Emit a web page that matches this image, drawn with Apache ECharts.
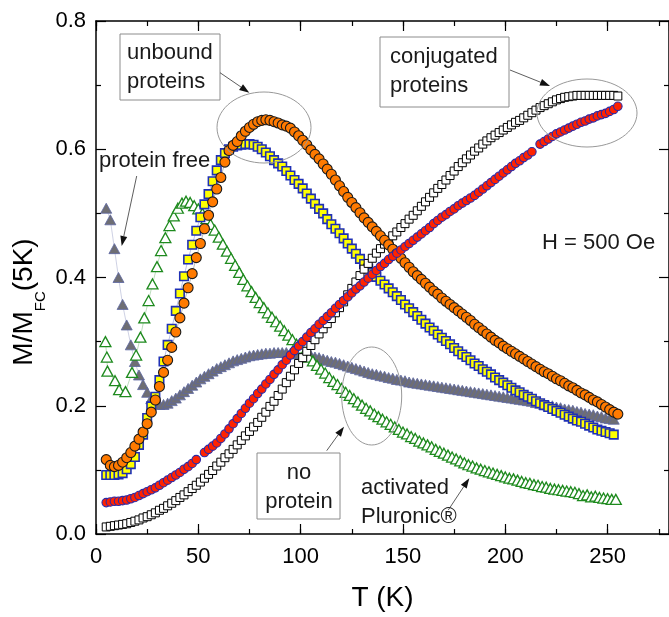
<!DOCTYPE html>
<html>
<head>
<meta charset="utf-8">
<script src="https://cdn.jsdelivr.net/npm/echarts@6/dist/echarts.min.js"></script>
<style>
html, body { margin: 0; padding: 0; background: #fff; }
#main { width: 669px; height: 617px; }
</style>
</head>
<body>
<div id="main"></div>
<script>
// temperature grid shared by most curves (K)
var temps = [
  5, 7, 9, 11, 13, 15, 17, 19, 21, 23,
  25, 27, 29, 31, 33, 35, 37, 39, 41, 43,
  45, 47, 49, 51, 53, 55, 57, 59, 61, 63,
  65, 67, 69, 71, 73, 75, 77, 79, 81, 83,
  85, 87, 89, 91, 93, 95, 97, 99, 101, 103,
  105, 107, 109, 111, 113, 115, 117, 119, 121, 123,
  125, 127, 129, 131, 133, 135, 137, 139, 141, 143,
  145, 147, 149, 151, 153, 155, 157, 159, 161, 163,
  165, 167, 169, 171, 173, 175, 177, 179, 181, 183,
  185, 187, 189, 191, 193, 195, 197, 199, 201, 203,
  205, 207, 209, 211, 213, 215, 217, 219, 221, 223,
  225, 227, 229, 231, 233, 235, 237, 239, 241, 243,
  245, 247, 249, 251, 253, 255
]

// unbound proteins, orange circles
var unboundCircles = [
  0.116, 0.107, 0.105, 0.107, 0.112, 0.119, 0.127, 0.137, 0.148, 0.159,
  0.172, 0.190, 0.209, 0.230, 0.252, 0.271, 0.291, 0.315, 0.337, 0.360,
  0.384, 0.406, 0.431, 0.453, 0.476, 0.497, 0.518, 0.538, 0.556, 0.580,
  0.598, 0.606, 0.612, 0.621, 0.628, 0.634, 0.639, 0.643, 0.645, 0.646,
  0.645, 0.643, 0.641, 0.638, 0.636, 0.633, 0.627, 0.621, 0.614, 0.607,
  0.599, 0.592, 0.585, 0.577, 0.569, 0.561, 0.552, 0.543, 0.534, 0.525,
  0.517, 0.509, 0.501, 0.493, 0.486, 0.479, 0.472, 0.465, 0.458, 0.451,
  0.444, 0.437, 0.430, 0.423, 0.416, 0.409, 0.403, 0.397, 0.391, 0.385,
  0.379, 0.374, 0.368, 0.363, 0.358, 0.353, 0.348, 0.343, 0.338, 0.333,
  0.327, 0.322, 0.317, 0.312, 0.307, 0.302, 0.298, 0.293, 0.289, 0.285,
  0.281, 0.277, 0.273, 0.269, 0.265, 0.261, 0.257, 0.253, 0.250, 0.246,
  0.242, 0.239, 0.235, 0.231, 0.228, 0.224, 0.220, 0.217, 0.213, 0.209,
  0.206, 0.202, 0.198, 0.194, 0.190, 0.187
]

// unbound proteins, yellow squares
var unboundSquares = [
  0.092, 0.092, 0.092, 0.093, 0.095, 0.101, 0.109, 0.120, 0.139, 0.155,
  0.181, 0.199, 0.214, 0.240, 0.269, 0.295, 0.320, 0.348, 0.375, 0.402,
  0.428, 0.451, 0.473, 0.494, 0.514, 0.530, 0.550, 0.567, 0.583, 0.594,
  0.600, 0.604, 0.606, 0.607, 0.608, 0.608, 0.607, 0.604, 0.600, 0.595,
  0.589, 0.583, 0.578, 0.573, 0.566, 0.559, 0.552, 0.546, 0.539, 0.531,
  0.523, 0.515, 0.507, 0.500, 0.491, 0.483, 0.476, 0.469, 0.461, 0.453,
  0.445, 0.437, 0.429, 0.421, 0.414, 0.407, 0.401, 0.395, 0.389, 0.383,
  0.377, 0.371, 0.365, 0.358, 0.352, 0.346, 0.340, 0.334, 0.328, 0.322,
  0.317, 0.311, 0.306, 0.301, 0.296, 0.290, 0.285, 0.280, 0.276, 0.271,
  0.266, 0.262, 0.257, 0.253, 0.249, 0.244, 0.240, 0.236, 0.232, 0.228,
  0.224, 0.221, 0.217, 0.214, 0.211, 0.207, 0.204, 0.201, 0.198, 0.195,
  0.192, 0.189, 0.186, 0.183, 0.180, 0.177, 0.175, 0.172, 0.169, 0.166,
  0.163, 0.161, 0.159, 0.157, 0.155, null
]

// conjugated proteins, red circles
var conjCircles = [
  0.049, 0.050, 0.051, 0.051, 0.052, 0.053, 0.055, 0.057, 0.060, 0.063,
  0.066, 0.069, 0.072, 0.076, 0.080, 0.084, 0.088, 0.092, 0.096, 0.101,
  0.105, 0.110, 0.116, null, 0.127, 0.132, 0.137, 0.142, 0.149, 0.156,
  0.164, 0.172, 0.180, 0.188, 0.196, 0.204, 0.211, 0.219, 0.226, 0.234,
  0.241, 0.249, 0.256, 0.264, 0.271, 0.279, 0.286, 0.293, 0.300, 0.307,
  0.314, 0.320, 0.327, 0.333, 0.339, 0.345, 0.352, 0.358, 0.364, 0.370,
  0.376, 0.382, 0.387, 0.393, 0.399, 0.405, 0.411, 0.417, 0.422, 0.428,
  0.433, 0.438, 0.443, 0.448, 0.453, 0.458, 0.463, 0.468, 0.473, 0.478,
  0.484, 0.489, 0.494, 0.498, 0.503, 0.507, 0.512, 0.516, 0.520, 0.524,
  0.528, 0.533, 0.538, 0.543, 0.548, 0.553, 0.558, 0.563, 0.568, 0.573,
  0.578, 0.582, 0.587, 0.591, 0.596, null, 0.608, 0.612, 0.616, 0.620,
  0.624, 0.627, 0.630, 0.633, 0.636, 0.639, 0.642, 0.644, 0.647, 0.649,
  0.652, 0.654, 0.656, 0.659, 0.662, 0.667
]

// conjugated proteins, open black squares
var conjSquares = [
  0.011, 0.012, 0.013, 0.014, 0.015, 0.016, 0.018, 0.020, 0.022, 0.025,
  0.027, 0.030, 0.033, 0.037, 0.040, 0.044, 0.048, 0.052, 0.057, 0.061,
  0.066, 0.071, 0.076, 0.081, 0.087, 0.093, 0.099, 0.106, 0.112, 0.119,
  0.125, 0.132, 0.139, 0.146, 0.153, 0.160, 0.167, 0.174, 0.182, 0.190,
  0.199, 0.207, 0.216, 0.226, 0.236, 0.246, 0.256, 0.266, 0.275, 0.285,
  0.294, 0.303, 0.312, 0.320, 0.328, 0.336, 0.345, 0.353, 0.362, 0.373,
  0.383, 0.393, 0.403, 0.413, 0.422, 0.430, 0.438, 0.445, 0.452, 0.458,
  0.465, 0.471, 0.478, 0.484, 0.491, 0.497, 0.504, 0.511, 0.518, 0.525,
  0.532, 0.539, 0.545, 0.552, 0.559, 0.566, 0.573, 0.579, 0.585, 0.591,
  0.597, 0.602, 0.608, 0.613, 0.618, 0.622, 0.626, 0.630, 0.634, 0.638,
  0.642, 0.645, 0.649, 0.653, 0.657, 0.661, 0.665, 0.668, 0.671, 0.674,
  0.677, 0.679, 0.681, 0.682, 0.683, 0.684, 0.684, 0.684, 0.684, 0.684,
  0.684, 0.684, 0.684, 0.684, 0.684, 0.683
]

// protein free, grey triangles
var proteinFree = [
  0.508, 0.490, 0.445, 0.400, 0.358, 0.326, 0.295, 0.269, 0.248, 0.233,
  0.221, 0.211, 0.205, 0.202, 0.202, 0.204, 0.208, 0.212, 0.217, 0.222,
  0.227, 0.232, 0.237, 0.242, 0.246, 0.250, 0.254, 0.258, 0.261, 0.264,
  0.267, 0.270, 0.272, 0.274, 0.276, 0.278, 0.279, 0.280, 0.281, 0.282,
  0.282, 0.283, 0.283, 0.283, 0.283, 0.282, 0.282, 0.281, 0.280, 0.279,
  0.278, 0.276, 0.275, 0.273, 0.271, 0.269, 0.268, 0.266, 0.264, 0.262,
  0.260, 0.258, 0.256, 0.254, 0.252, 0.250, 0.249, 0.247, 0.246, 0.244,
  0.243, 0.241, 0.240, 0.239, 0.237, 0.236, 0.235, 0.234, 0.233, 0.232,
  0.231, 0.230, 0.229, 0.228, 0.227, 0.226, 0.225, 0.224, 0.223, 0.222,
  0.221, 0.220, 0.219, 0.218, 0.217, 0.216, 0.215, 0.214, 0.213, 0.212,
  0.211, 0.210, 0.209, 0.208, 0.207, 0.205, 0.204, 0.202, 0.201, 0.200,
  0.198, 0.197, 0.195, 0.194, 0.193, 0.191, 0.190, 0.188, 0.187, 0.186,
  0.184, 0.183, 0.181, 0.180, 0.179, null
]

// activated Pluronic (no protein), open green triangles, own temperatures
var pluronicTemps = [
  4.6, 5.3, 5.6, 9.3, 11.3, 14.4, 17.6, 19.6, 21.7, 23.6,
  25.7, 27.6, 29.8, 31.8, 33.9, 35.9, 38,
  40, 42, 44, 46, 48, 50, 52, 54, 56, 58,
  60, 62, 64, 66, 68, 70, 72, 74, 76, 78,
  80, 82, 84, 86, 88, 90, 92, 94, 96, 98,
  100, 102, 104, 106, 108, 110, 112, 114, 116, 118,
  120, 122, 124, 126, 128, 130, 132, 134, 136, 138,
  140, 142, 144, 146, 148, 150, 152, 154, 156, 158,
  160, 162, 164, 166, 168, 170, 172, 174, 176, 178,
  180, 182, 184, 186, 188, 190, 192, 194, 196, 198,
  200, 202, 204, 206, 208, 210, 212, 214, 216, 218,
  220, 222, 224, 226, 228, 230, 232, 234, 236, 238,
  240, 242, 244, 246, 248, 250, 252, 254
]
var pluronic = [
  0.300, 0.276, 0.254, 0.239, 0.225, 0.222, 0.252, 0.279, 0.307, 0.337,
  0.364, 0.390, 0.417, 0.442, 0.462, 0.481, 0.496,
  0.508, 0.516, 0.519, 0.517, 0.512, 0.507, 0.500, 0.492, 0.483, 0.474,
  0.463, 0.452, 0.441, 0.430, 0.419, 0.408, 0.397, 0.387, 0.378, 0.369,
  0.361, 0.353, 0.345, 0.338, 0.331, 0.324, 0.317, 0.310, 0.303, 0.296,
  0.290, 0.283, 0.276, 0.270, 0.263, 0.257, 0.251, 0.244, 0.238, 0.233,
  0.227, 0.221, 0.216, 0.211, 0.206, 0.201, 0.196, 0.192, 0.187, 0.183,
  0.179, 0.175, 0.171, 0.167, 0.163, 0.159, 0.156, 0.152, 0.149, 0.145,
  0.142, 0.139, 0.136, 0.132, 0.129, 0.126, 0.123, 0.120, 0.117, 0.114,
  0.111, 0.108, 0.106, 0.103, 0.101, 0.099, 0.097, 0.095, 0.093, 0.091,
  0.089, 0.087, 0.086, 0.084, 0.082, 0.080, 0.079, 0.077, 0.076, 0.074,
  0.073, 0.071, 0.070, 0.069, 0.068, 0.067, 0.066, 0.065, 0.063, 0.060,
  0.061, 0.058, 0.059, 0.057, 0.056, 0.055, 0.054, 0.054
]

var FONT = '"Liberation Sans", Arial, sans-serif'
var INK = '#1a1a1a'
var FRAME = '#8c8c8c'

function pairs (xs, ys) {
  return xs.map(function (x, i) { return [x, ys[i]] })
}

// one marker series, thin connecting line like the original plot
function dots (name, xs, ys, symbol, size, fill, edge, bw) {
  return {
    name: name,
    type: 'line',
    data: pairs(xs, ys),
    symbol: symbol,
    symbolSize: size,
    showSymbol: true,
    connectNulls: false,
    silent: true,
    itemStyle: { color: fill, borderColor: edge, borderWidth: bw },
    lineStyle: { width: 0.6, color: edge, opacity: 0.5 }
  }
}

function arrow (x1, y1, x2, y2) {
  var dx = x2 - x1
  var dy = y2 - y1
  var len = Math.sqrt(dx * dx + dy * dy)
  var ux = dx / len
  var uy = dy / len
  var bx = x2 - ux * 10
  var by = y2 - uy * 10
  return [
    { type: 'line', z: 100, shape: { x1: x1, y1: y1, x2: bx, y2: by }, style: { stroke: '#333', lineWidth: 0.8 } },
    { type: 'polygon', z: 100, shape: { points: [[x2, y2], [bx - uy * 3.5, by + ux * 3.5], [bx + uy * 3.5, by - ux * 3.5]] }, style: { fill: '#111' } }
  ]
}

function label (x, y, text, align) {
  return {
    type: 'text', z: 100, x: x, y: y,
    style: { text: text, fontSize: 22, fontFamily: FONT, fill: INK, lineHeight: 29, align: align || 'left', verticalAlign: 'middle' }
  }
}

function box (x, y, w, h) {
  return { type: 'rect', z: 99, shape: { x: x, y: y, width: w, height: h }, style: { fill: 'none', stroke: FRAME, lineWidth: 1 } }
}

function ring (cx, cy, rx, ry) {
  return { type: 'ellipse', z: 99, shape: { cx: cx, cy: cy, rx: rx, ry: ry }, style: { fill: 'none', stroke: '#999', lineWidth: 1 } }
}

var black = { color: '#000', width: 1.5 }

function xAxisPart (pos, interval, len, showLine, showLabel) {
  return {
    type: 'value', position: pos, min: 0, max: 280, interval: interval,
    axisLine: { show: showLine, onZero: false, lineStyle: black },
    axisTick: { show: true, inside: true, length: len, lineStyle: { color: '#000', width: 1.2 } },
    axisLabel: { show: showLabel, fontSize: 22, fontFamily: FONT, color: '#000', margin: 12, showMaxLabel: false },
    splitLine: { show: false }
  }
}

function yAxisPart (pos, showLabel) {
  return {
    type: 'value', position: pos, min: 0, max: 0.8, interval: 0.2,
    axisLine: { show: true, onZero: false, lineStyle: black },
    axisTick: { show: true, inside: true, length: 10, lineStyle: { color: '#000', width: 1.2 } },
    minorTick: { show: true, splitNumber: 2, length: 5, lineStyle: { color: '#000', width: 1.2 } },
    axisLabel: {
      show: showLabel, fontSize: 22, fontFamily: FONT, color: '#000', margin: 10,
      formatter: function (v) { return v.toFixed(1) }
    },
    splitLine: { show: false }
  }
}

var xMain = xAxisPart('bottom', 50, 10, true, true)
xMain.name = 'T (K)'
xMain.nameLocation = 'middle'
xMain.nameGap = 50
xMain.nameTextStyle = { fontSize: 28, fontFamily: FONT, color: '#000' }

var graphics = [
  // y axis title with subscript
  {
    type: 'text', x: 24, y: 302, rotation: Math.PI / 2,
    style: {
      text: '{m|M/M}{s|FC}{m|(5K)}', align: 'center', verticalAlign: 'middle',
      rich: {
        m: { fontSize: 28, fontFamily: FONT, fill: '#000', lineHeight: 49, verticalAlign: 'middle' },
        s: { fontSize: 15, fontFamily: FONT, fill: '#000', lineHeight: 16, verticalAlign: 'bottom' }
      }
    }
  },
  box(120, 34, 100, 66),
  label(127, 67.5, 'unbound\nproteins'),
  ring(264, 127.5, 47, 35.5),
  box(380, 37, 129, 70),
  label(390, 71, 'conjugated\nproteins'),
  ring(587, 113, 50, 34),
  label(99, 160.5, 'protein free'),
  label(542, 243, 'H = 500 Oe'),
  box(257, 453, 83, 66),
  label(299, 487, 'no\nprotein', 'center'),
  ring(371.7, 396, 30, 49),
  label(361, 502, 'activated\nPluronic®')
]
graphics = graphics
  .concat(arrow(220, 72.7, 249.3, 92.7))
  .concat(arrow(510, 70, 550, 86))
  .concat(arrow(136.7, 176, 121.7, 246))
  .concat(arrow(326.7, 450.7, 344, 426.7))
  .concat(arrow(448.3, 510, 469.3, 478.3))

var myChart = echarts.init(document.getElementById('main'), null, { renderer: 'canvas' })
myChart.setOption({
  animation: false,
  backgroundColor: '#fff',
  grid: { left: 96, right: -2, top: 21, bottom: 80 },
  xAxis: [
    xMain,
    xAxisPart('bottom', 25, 5, false, false),
    xAxisPart('top', 50, 10, true, false),
    xAxisPart('top', 25, 5, false, false)
  ],
  yAxis: [
    yAxisPart('left', true),
    yAxisPart('right', false)
  ],
  series: [
    dots('protein free', temps, proteinFree, 'triangle', [11, 10], '#6e6e74', '#5c66a3', 0.8),
    dots('activated Pluronic', pluronicTemps, pluronic, 'triangle', [11, 10], '#ffffff', '#1e8a1e', 1.3),
    dots('unbound squares', temps, unboundSquares, 'rect', 8.5, '#ffff00', '#1f30b5', 1.6),
    dots('conjugated squares', temps, conjSquares, 'rect', 8, '#ffffff', '#000000', 1),
    dots('unbound circles', temps, unboundCircles, 'circle', 10, '#ff7a00', '#1a1a1a', 1.1),
    dots('conjugated circles', temps, conjCircles, 'circle', 8.5, '#ff2200', '#2a2aa8', 1.1)
  ],
  graphic: graphics
})
</script>
</body>
</html>
